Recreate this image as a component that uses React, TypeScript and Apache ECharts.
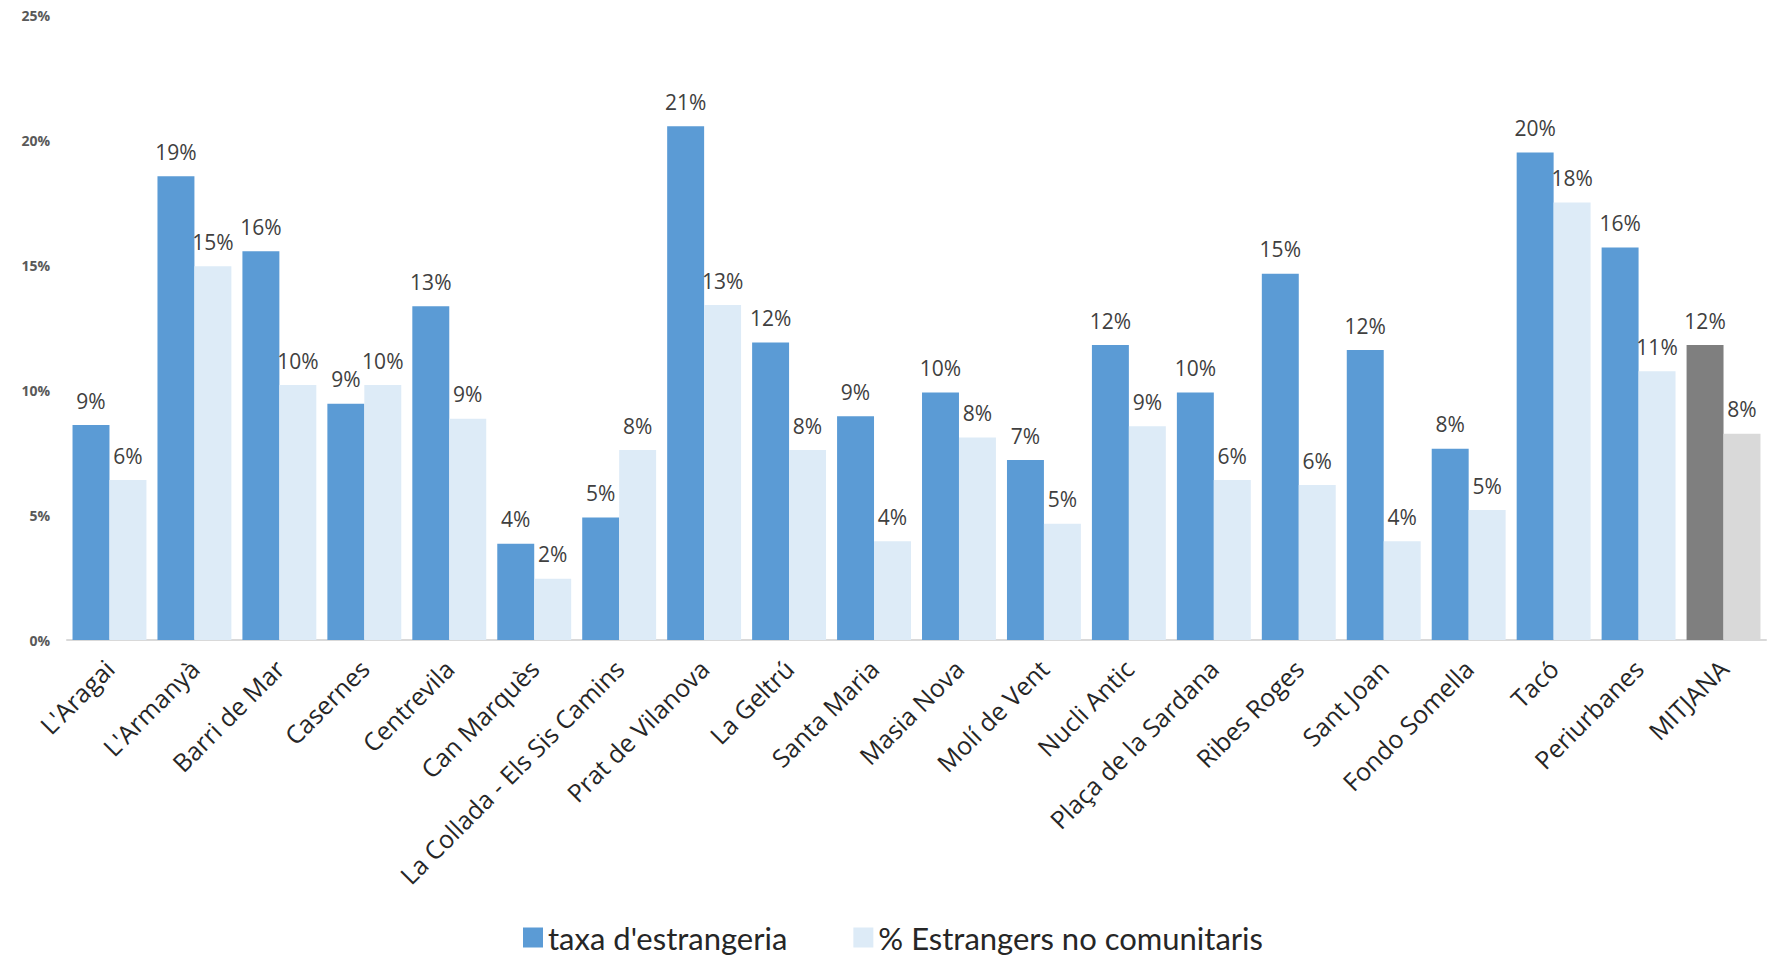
import React, { useEffect, useRef } from "react";
import * as echarts from "echarts";

const categories = [
  "L'Aragai", "L'Armanyà", "Barri de Mar", "Casernes", "Centrevila", "Can Marquès",
  "La Collada - Els Sis Camins", "Prat de Vilanova", "La Geltrú", "Santa Maria", "Masia Nova",
  "Molí de Vent", "Nucli Antic", "Plaça de la Sardana", "Ribes Roges", "Sant Joan",
  "Fondo Somella", "Tacó", "Periurbanes", "MITJANA",
];
const taxaEstrangeria = [
  8.6, 18.55, 15.55, 9.45, 13.35, 3.85, 4.9, 20.55, 11.9, 8.95,
  9.9, 7.2, 11.8, 9.9, 14.65, 11.6, 7.65, 19.5, 15.7, 11.8,
];
const estrangersNoComunitaris = [
  6.4, 14.95, 10.2, 10.2, 8.85, 2.45, 7.6, 13.4, 7.6, 3.95,
  8.1, 4.65, 8.55, 6.4, 6.2, 3.95, 5.2, 17.5, 10.75, 8.25,
];
const seriesNames = ["taxa d'estrangeria", "% Estrangers no comunitaris"];
const yTicks = { min: 0, max: 25, interval: 5 };

const BLUE = "#5b9bd5";
const LIGHT = "#ddebf7";
const GREY = "#7f7f7f";
const LIGHTGREY = "#d9d9d9";

export default function App() {
  const ref = useRef<HTMLDivElement>(null);
  useEffect(() => {
    document.body.style.margin = "0";
    if (!ref.current) return;
    const chart = echarts.init(ref.current, null, { renderer: "svg" });
    const last = categories.length - 1;
    const mk = (vals: number[], special: string) =>
      vals.map((v, i) => (i === last ? { value: v, itemStyle: { color: special } } : v));
    const label = {
      show: true,
      position: "top",
      distance: 14,
      fontFamily: "Open Sans",
      fontSize: 21,
      color: "#404040",
      formatter: (p: any) => Math.round(p.value) + "%",
    };
    chart.setOption({
      animation: false,
      backgroundColor: "#ffffff",
      grid: { left: 67, right: 1, top: 15, bottom: 320, containLabel: false },
      legend: {
        left: 518,
        top: 917,
        itemWidth: 20,
        itemHeight: 20,
        itemGap: 66,
        icon: "rect",
        textStyle: { fontFamily: "Lato", fontSize: 31, color: "#262626" },
        data: seriesNames,
      },
      xAxis: {
        type: "category",
        data: categories,
        axisLine: { lineStyle: { color: "#d9d9d9", width: 2 } },
        axisTick: { show: false },
        axisLabel: {
          interval: 0,
          rotate: 45,
          margin: 24,
          fontFamily: "Open Sans",
          fontSize: 25,
          color: "#262626",
        },
      },
      yAxis: {
        type: "value",
        min: yTicks.min,
        max: yTicks.max,
        interval: yTicks.interval,
        axisLine: { show: false },
        axisTick: { show: false },
        splitLine: { show: false },
        axisLabel: {
          formatter: "{value}%",
          margin: 17,
          fontFamily: "Open Sans",
          fontWeight: "bold",
          fontSize: 14,
          color: "#595959",
        },
      },
      series: [
        {
          name: seriesNames[0],
          type: "bar",
          data: mk(taxaEstrangeria, GREY),
          itemStyle: { color: BLUE },
          barGap: "0%",
          barCategoryGap: "13%",
          label,
        },
        {
          name: seriesNames[1],
          type: "bar",
          data: mk(estrangersNoComunitaris, LIGHTGREY),
          itemStyle: { color: LIGHT },
          label,
        },
      ],
    });
    return () => chart.dispose();
  }, []);
  return <div ref={ref} style={{ width: 1767, height: 960 }} />;
}
